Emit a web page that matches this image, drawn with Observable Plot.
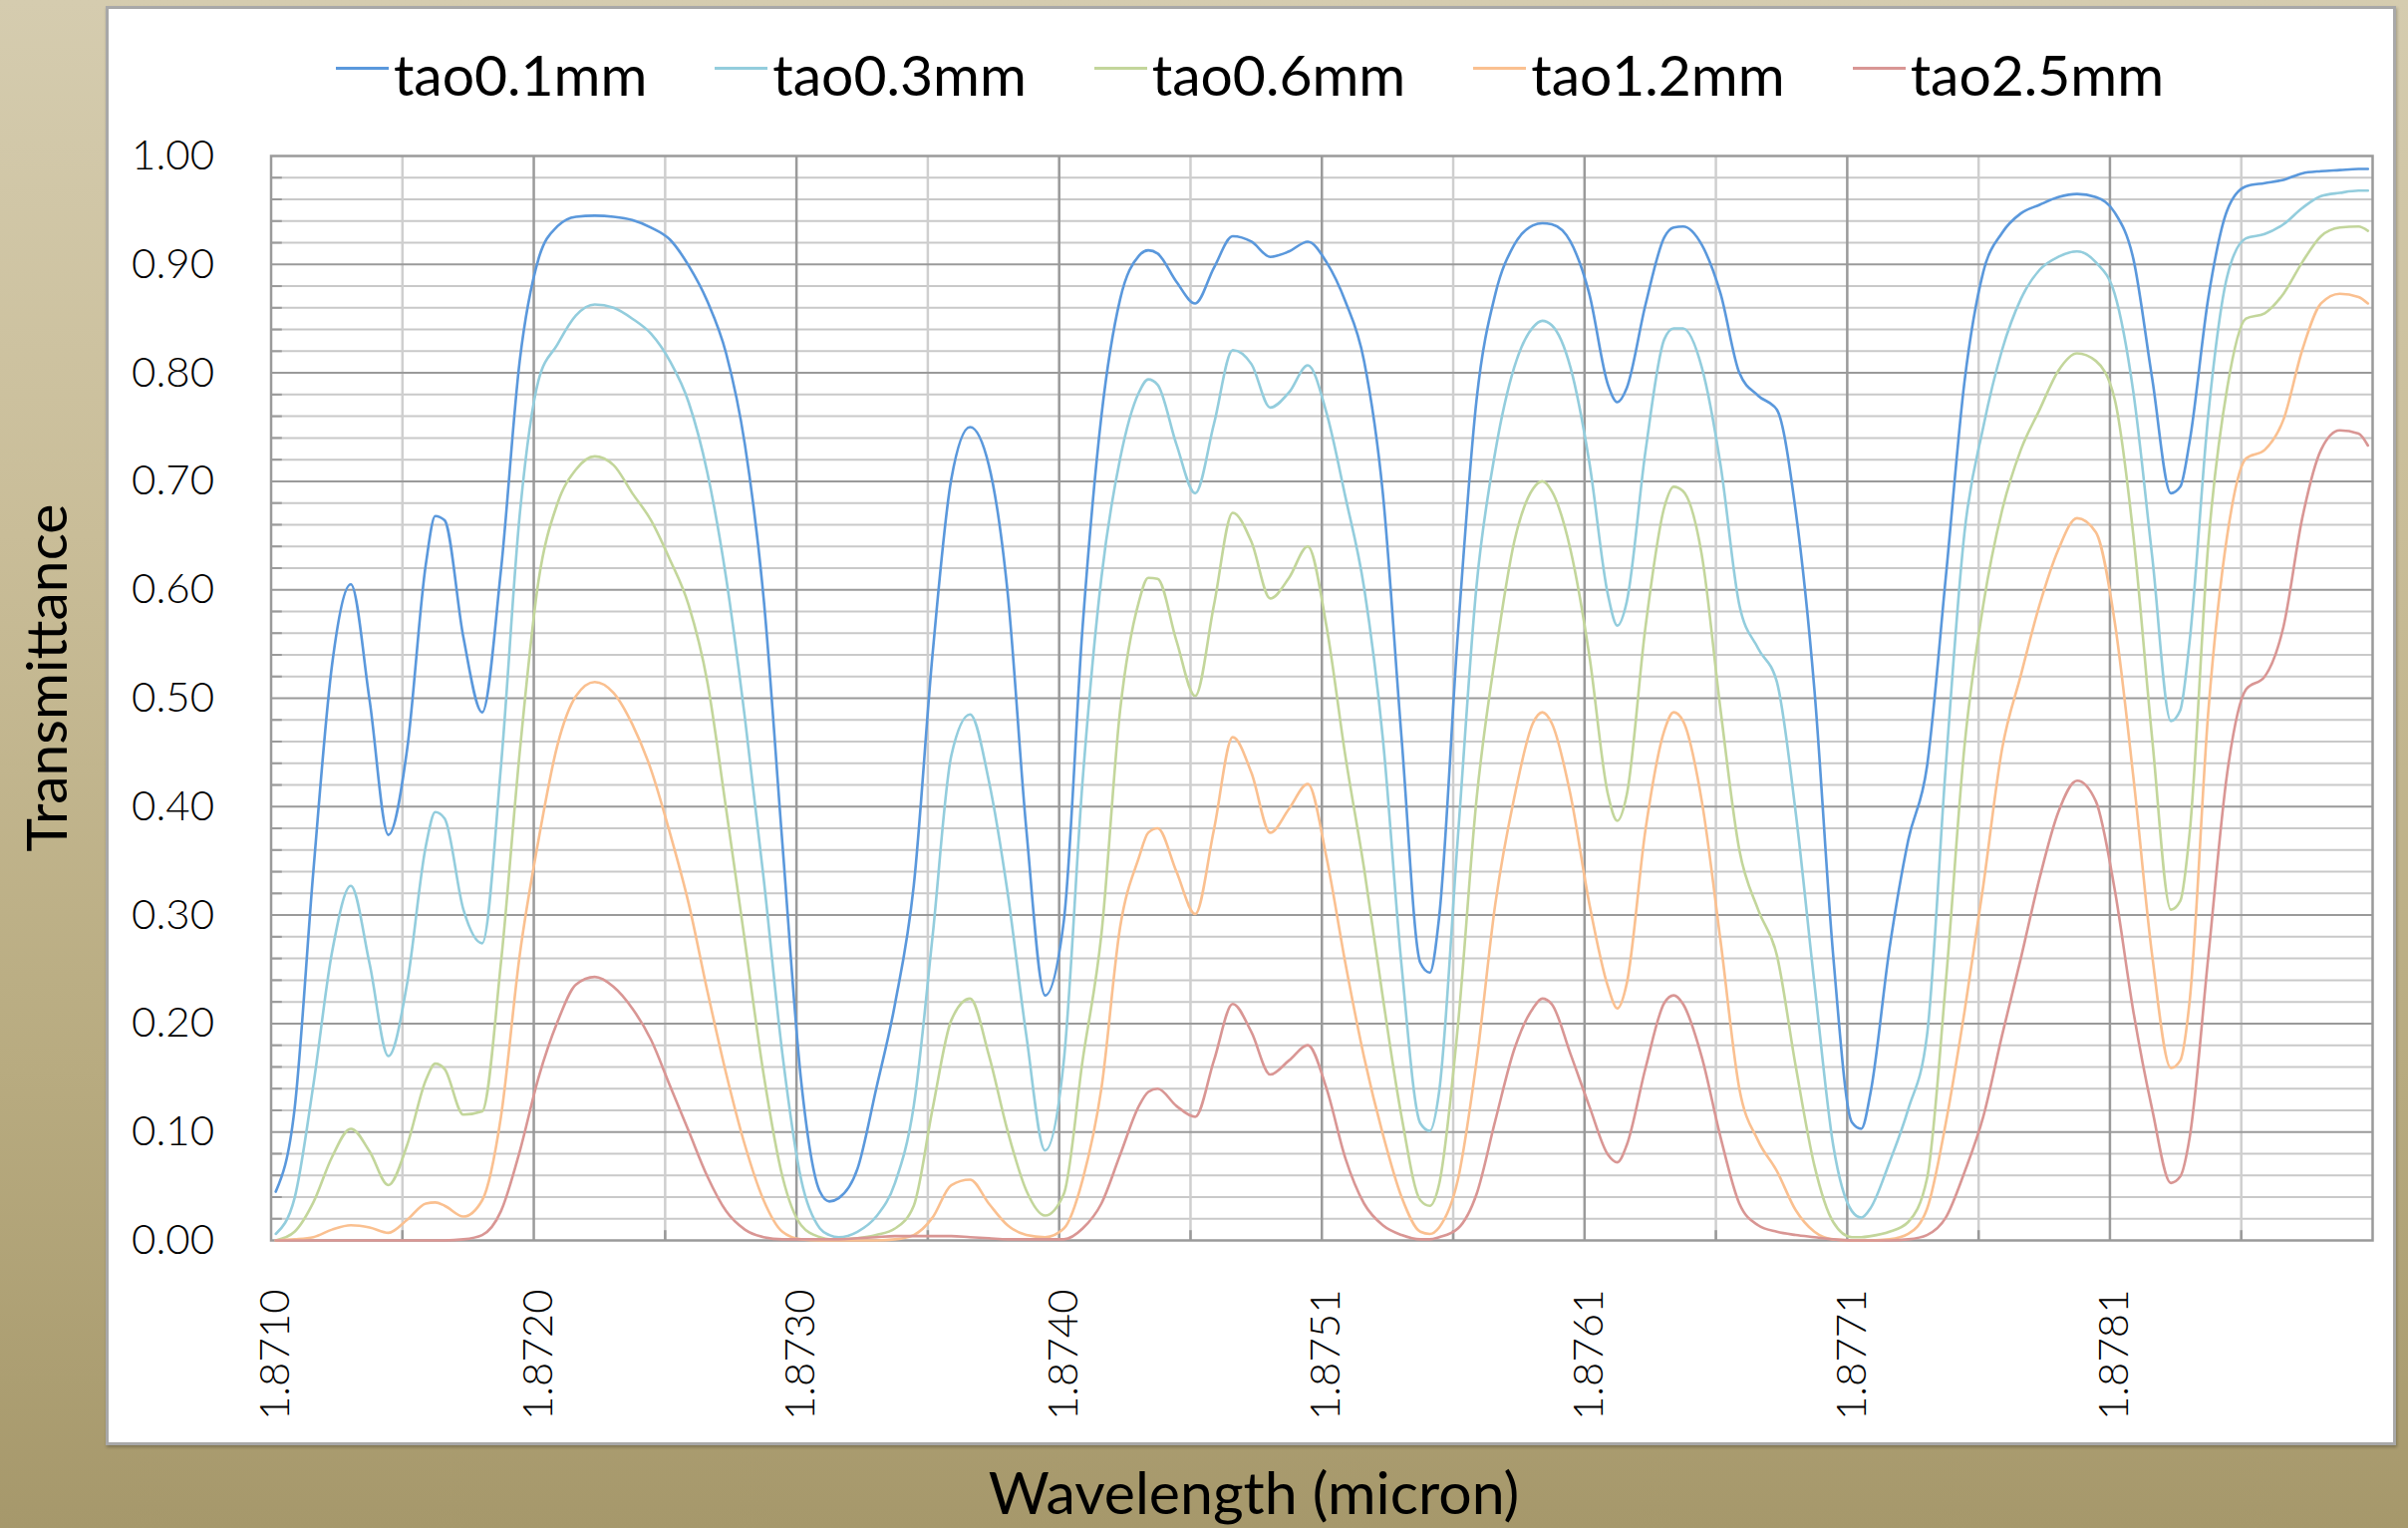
<!DOCTYPE html>
<html>
<head>
<meta charset="utf-8">
<script src="https://cdn.jsdelivr.net/npm/d3@7"></script>
<script src="https://cdn.jsdelivr.net/npm/@observablehq/plot@0.6"></script>
<style>
html,body{margin:0;padding:0;}
body{width:2416px;height:1533px;overflow:hidden;position:relative;
  background:linear-gradient(180deg,#d5ccaf 0%,#c9bd98 35%,#b8ab80 70%,#a6986b 100%);
  font-family:Lato,"Open Sans",sans-serif;color:#000;}
#card{position:absolute;left:106px;top:6px;width:2292px;height:1438px;background:#fff;
  border:3px solid #a8a8a8;box-shadow:1px 2px 3px rgba(0,0,0,0.25);}
#chart{position:absolute;left:108px;top:8px;}
#legend{position:absolute;left:108px;top:46px;width:2292px;display:flex;justify-content:center;gap:68px;
  font-size:57px;line-height:57px;white-space:nowrap;font-weight:400;}
.item{display:flex;align-items:flex-start;}
.sw{display:inline-block;width:53px;height:3px;margin-top:20.5px;margin-right:5px;}
#xtitle{position:absolute;left:1258px;top:1467px;transform:translateX(-50%);font-size:59px;line-height:60px;white-space:nowrap;font-weight:400;}
#ytitle{position:absolute;left:45px;top:680px;transform:translate(-50%,-50%) rotate(-90deg);font-size:57px;line-height:58px;white-space:nowrap;font-weight:400;}
#err{position:absolute;left:300px;top:300px;color:red;font-size:40px;}
</style>
</head>
<body>
<div id="card"></div>
<div id="chart"></div>
<div id="legend"></div>
<div id="xtitle">Wavelength (micron)</div>
<div id="ytitle">Transmittance</div>
<div id="err"></div>
<script>
// Series names and colours
const names = ["tao0.1mm", "tao0.3mm", "tao0.6mm", "tao1.2mm", "tao2.5mm"];
const colors = ["#5a98dc", "#93cddd", "#c3d69b", "#fac090", "#d99694"];

// Category axis: index of each sampled category, and the labelled categories
const idx = [0,2,4,6,8,10,12,14,16,17,18,20,22,24,26,28,30,32,34,36,38,40,42,44,46,48,50,52,54,56,58,59,60,62,64,66,68,70,72,74,76,78,80,82,84,86,88,90,92,93,94,96,98,100,102,104,106,108,110,112,114,116,118,120,122,123,124,126,128,130,132,134,135,136,138,140,142,143,144,146,148,149,150,152,154,156,158,160,162,164,166,168,169,170,172,174,176,178,180,182,184,186,188,190,192,194,196,198,200,202,203,204,206,208,210,212,214,216,218,220,222,223];
const xTickIdx = [0, 28, 56, 84, 112, 140, 168, 196];
const xLabels = ["1.8710", "1.8720", "1.8730", "1.8740", "1.8751", "1.8761", "1.8771", "1.8781"];
const nCategories = 224;
const yTicks = [0, 0.1, 0.2, 0.3, 0.4, 0.5, 0.6, 0.7, 0.8, 0.9, 1.0];

// Transmittance values
const tao01 = [0.045,0.121,0.340,0.531,0.605,0.498,0.374,0.453,0.624,0.668,0.664,0.556,0.487,0.618,0.811,0.905,0.935,0.944,0.945,0.944,0.941,0.934,0.923,0.899,0.866,0.818,0.734,0.592,0.366,0.147,0.045,0.036,0.039,0.066,0.140,0.218,0.327,0.540,0.702,0.750,0.715,0.598,0.379,0.226,0.295,0.566,0.760,0.868,0.908,0.913,0.910,0.884,0.864,0.897,0.926,0.921,0.907,0.912,0.921,0.902,0.866,0.811,0.689,0.463,0.256,0.247,0.298,0.560,0.776,0.873,0.918,0.936,0.938,0.937,0.921,0.873,0.789,0.773,0.786,0.863,0.925,0.934,0.935,0.918,0.873,0.800,0.779,0.766,0.673,0.508,0.263,0.109,0.103,0.137,0.269,0.369,0.437,0.611,0.792,0.893,0.929,0.947,0.955,0.962,0.965,0.962,0.948,0.905,0.795,0.689,0.695,0.737,0.870,0.950,0.972,0.975,0.978,0.984,0.986,0.987,0.988,0.988];
const tao03 = [0.006,0.039,0.143,0.266,0.327,0.255,0.170,0.237,0.364,0.395,0.389,0.305,0.274,0.437,0.669,0.793,0.826,0.853,0.863,0.860,0.850,0.836,0.811,0.773,0.708,0.611,0.482,0.334,0.172,0.056,0.011,0.005,0.003,0.008,0.022,0.053,0.124,0.280,0.447,0.485,0.424,0.321,0.189,0.083,0.166,0.424,0.611,0.721,0.782,0.794,0.789,0.734,0.689,0.753,0.821,0.808,0.768,0.782,0.807,0.763,0.686,0.602,0.463,0.253,0.108,0.101,0.137,0.372,0.605,0.728,0.805,0.842,0.848,0.844,0.805,0.718,0.595,0.567,0.589,0.728,0.831,0.841,0.841,0.805,0.715,0.586,0.546,0.515,0.395,0.237,0.088,0.027,0.021,0.030,0.072,0.121,0.189,0.437,0.653,0.750,0.821,0.868,0.895,0.907,0.912,0.902,0.873,0.782,0.631,0.479,0.489,0.553,0.763,0.889,0.924,0.928,0.937,0.952,0.963,0.966,0.968,0.968];
const tao06 = [0.000,0.008,0.035,0.077,0.103,0.082,0.051,0.088,0.148,0.163,0.158,0.116,0.119,0.256,0.450,0.608,0.679,0.711,0.723,0.715,0.689,0.664,0.628,0.586,0.515,0.398,0.276,0.153,0.059,0.014,0.003,0.001,0.001,0.002,0.005,0.011,0.032,0.121,0.203,0.223,0.171,0.101,0.046,0.023,0.043,0.166,0.282,0.489,0.589,0.611,0.610,0.553,0.502,0.586,0.671,0.644,0.592,0.611,0.640,0.566,0.447,0.343,0.224,0.114,0.037,0.032,0.052,0.198,0.408,0.540,0.644,0.693,0.700,0.691,0.637,0.540,0.411,0.387,0.411,0.566,0.676,0.695,0.691,0.632,0.489,0.360,0.305,0.263,0.161,0.069,0.017,0.003,0.003,0.004,0.008,0.017,0.057,0.237,0.456,0.586,0.673,0.729,0.766,0.802,0.818,0.811,0.776,0.650,0.463,0.305,0.313,0.376,0.644,0.786,0.850,0.855,0.873,0.902,0.926,0.934,0.935,0.931];
const tao12 = [0.000,0.001,0.003,0.010,0.014,0.012,0.007,0.019,0.034,0.035,0.032,0.022,0.037,0.114,0.263,0.369,0.456,0.502,0.515,0.505,0.476,0.434,0.376,0.311,0.230,0.154,0.088,0.037,0.008,0.001,0.000,0.000,0.000,0.000,0.000,0.001,0.005,0.021,0.051,0.056,0.034,0.014,0.005,0.003,0.011,0.056,0.140,0.289,0.353,0.376,0.380,0.340,0.301,0.379,0.464,0.431,0.376,0.398,0.421,0.353,0.256,0.169,0.098,0.040,0.008,0.006,0.012,0.056,0.166,0.311,0.408,0.477,0.487,0.477,0.411,0.311,0.234,0.214,0.237,0.379,0.470,0.487,0.479,0.405,0.276,0.140,0.092,0.064,0.028,0.008,0.001,0.000,0.000,0.000,0.001,0.006,0.029,0.108,0.211,0.327,0.453,0.521,0.586,0.637,0.666,0.653,0.571,0.427,0.263,0.159,0.166,0.221,0.489,0.650,0.721,0.729,0.757,0.821,0.864,0.873,0.870,0.864];
const tao25 = [0.000,0.000,0.000,0.000,0.000,0.000,0.000,0.000,0.000,0.000,0.000,0.001,0.005,0.027,0.082,0.150,0.201,0.236,0.243,0.234,0.214,0.185,0.143,0.101,0.059,0.027,0.010,0.003,0.001,0.001,0.001,0.001,0.001,0.002,0.003,0.004,0.004,0.004,0.004,0.003,0.002,0.001,0.001,0.001,0.001,0.011,0.034,0.079,0.124,0.137,0.140,0.124,0.114,0.166,0.218,0.192,0.153,0.166,0.180,0.140,0.076,0.034,0.014,0.005,0.001,0.001,0.003,0.011,0.043,0.111,0.176,0.214,0.223,0.218,0.172,0.124,0.079,0.072,0.088,0.159,0.219,0.226,0.218,0.169,0.095,0.034,0.014,0.008,0.005,0.003,0.001,0.000,0.000,0.000,0.000,0.001,0.005,0.021,0.063,0.114,0.189,0.260,0.334,0.395,0.424,0.405,0.324,0.211,0.121,0.053,0.059,0.095,0.263,0.431,0.508,0.520,0.566,0.666,0.729,0.747,0.744,0.733];

const series = [tao01, tao03, tao06, tao12, tao25];
const bad = series.map((s, k) => s.length !== idx.length ? names[k] + ":" + s.length : null).filter(d => d);
if (bad.length) document.getElementById("err").textContent = "length mismatch (" + idx.length + ") " + bad.join(" ");

const data = series.flatMap((s, k) => idx.map((c, j) => ({cat: c, value: s[j], name: names[k]})));

// gridline positions: category boundaries and 0.02 steps
const xMajorGrid = xTickIdx.slice(1).map(c => c - 0.5);
const xMinorGrid = xTickIdx.map(c => c + 13.5);
const yMajor = yTicks.slice(1, -1);
const yMinor = yTicks.slice(0, -1).flatMap(t => [0.02, 0.04, 0.06, 0.08].map(d => +(t + d).toFixed(2)));

const chart = Plot.plot({
  width: 2292,
  height: 1440,
  marginLeft: 163.5,
  marginRight: 20,
  marginTop: 148,
  marginBottom: 204,
  style: {background: "transparent", fontFamily: "Lato, 'Open Sans', sans-serif", fontSize: "42px", fontWeight: 300, color: "#000", overflow: "visible"},
  x: {domain: [-0.5, nCategories - 0.5]},
  y: {domain: [0, 1]},
  color: {domain: names, range: colors},
  marks: [
    Plot.ruleY(yMinor, {stroke: "#c9c9c9", strokeWidth: 2}),
    Plot.ruleX(xMinorGrid, {stroke: "#cfcfcf", strokeWidth: 2.5}),
    Plot.ruleY(yMajor, {stroke: "#9a9a9a", strokeWidth: 2}),
    Plot.ruleX(xMajorGrid, {stroke: "#9a9a9a", strokeWidth: 2.5}),
    Plot.ruleY(yMinor, {x1: -0.5, x2: 0.7, stroke: "#9a9a9a", strokeWidth: 2}),
    Plot.ruleX(xMinorGrid, {y1: 0, y2: 0.009, stroke: "#9a9a9a", strokeWidth: 2.5}),
    Plot.frame({stroke: "#9a9a9a", strokeWidth: 2.5}),
    Plot.axisY({ticks: yTicks, tickFormat: d3.format(".2f"), tickSize: 0, tickPadding: 57, fontSize: 42, label: null}),
    Plot.axisX({ticks: xTickIdx, tickFormat: d => xLabels[xTickIdx.indexOf(d)], tickSize: 0, tickPadding: 49, tickRotate: -90, fontSize: 42, label: null}),
    Plot.lineY(data, {x: "cat", y: "value", z: "name", stroke: "name", strokeWidth: 2.6, curve: "monotone-x"})
  ]
});
document.getElementById("chart").appendChild(chart);

// legend (HTML, above the SVG)
const legend = d3.select("#legend");
names.forEach((n, k) => {
  const it = legend.append("div").attr("class", "item");
  it.append("span").attr("class", "sw").style("background", colors[k]);
  it.append("span").text(n);
});
</script>
</body>
</html>
